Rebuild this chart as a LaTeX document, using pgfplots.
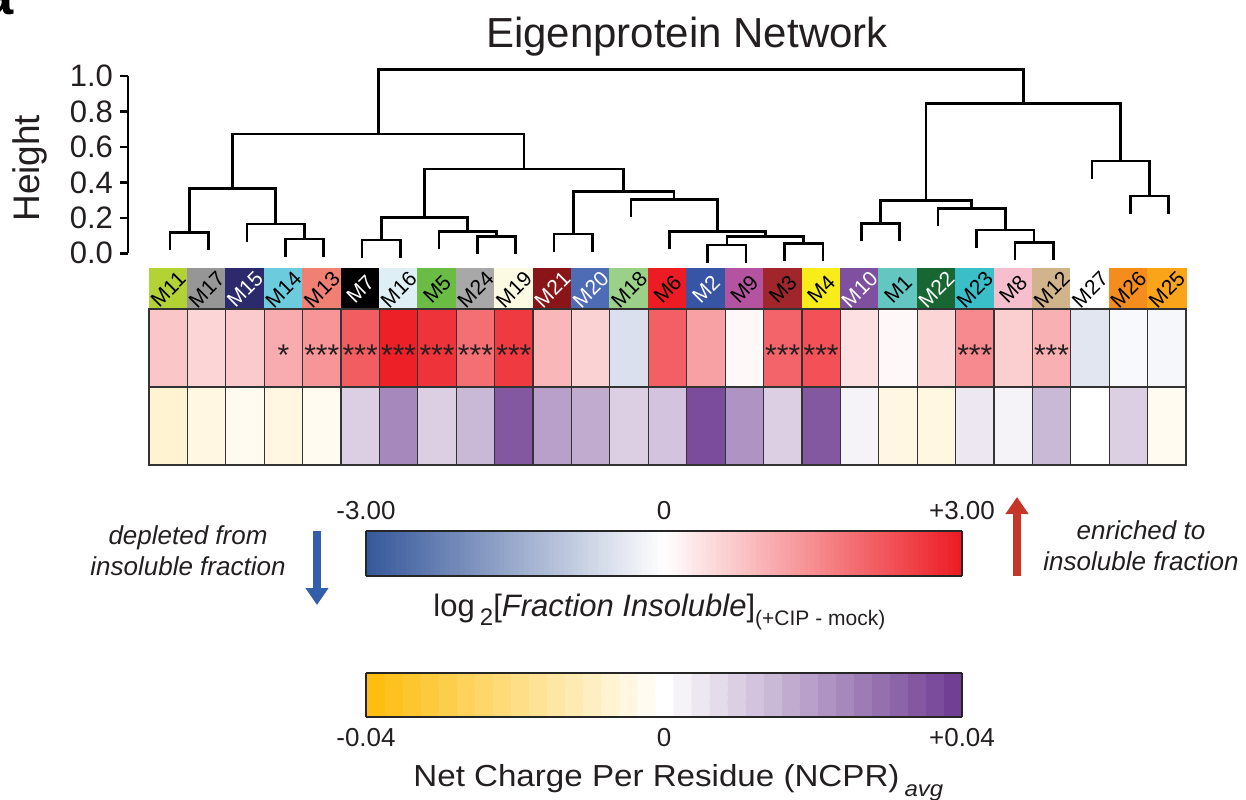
\documentclass[border=0pt]{standalone}
\usepackage{pgfplots}
\pgfplotsset{compat=1.18}
\usepackage{pgfplotstable}
\usepackage{fontspec}
\setmainfont{Liberation Sans}
\newfontfamily\widefont[FakeStretch=1.09]{Liberation Sans}
\usetikzlibrary{arrows.meta}

\definecolor{cM11}{RGB}{178,210,53}
\definecolor{cM17}{RGB}{150,150,150}
\definecolor{cM15}{RGB}{43,42,108}
\definecolor{cM14}{RGB}{108,203,221}
\definecolor{cM13}{RGB}{240,128,116}
\definecolor{cM7}{RGB}{0,0,0}
\definecolor{cM16}{RGB}{222,240,246}
\definecolor{cM5}{RGB}{106,188,69}
\definecolor{cM24}{RGB}{168,168,168}
\definecolor{cM19}{RGB}{252,250,226}
\definecolor{cM21}{RGB}{138,21,24}
\definecolor{cM20}{RGB}{78,107,181}
\definecolor{cM18}{RGB}{155,208,137}
\definecolor{cM6}{RGB}{237,28,36}
\definecolor{cM2}{RGB}{56,84,164}
\definecolor{cM9}{RGB}{180,84,160}
\definecolor{cM3}{RGB}{160,38,43}
\definecolor{cM4}{RGB}{248,237,26}
\definecolor{cM10}{RGB}{128,80,160}
\definecolor{cM1}{RGB}{100,198,192}
\definecolor{cM22}{RGB}{24,103,51}
\definecolor{cM23}{RGB}{58,190,200}
\definecolor{cM8}{RGB}{247,190,205}
\definecolor{cM12}{RGB}{210,180,140}
\definecolor{cM27}{RGB}{255,255,255}
\definecolor{cM26}{RGB}{245,140,30}
\definecolor{cM25}{RGB}{250,165,25}
\definecolor{arrblue}{RGB}{50,94,172}
\definecolor{arrred}{RGB}{198,54,40}
\definecolor{txt}{RGB}{35,31,32}

\pgfplotsset{
  colormap={frac0}{rgb255=(55,88,155) rgb255=(255,255,255) rgb255=(237,28,36)},
  colormap={fracmap}{samples of colormap=(121 of frac0)},
  colormap={ncpr0}{rgb255=(253,190,16) rgb255=(255,255,255) rgb255=(113,64,148)},
  colormap={ncprmap}{samples of colormap=(33 of ncpr0)},
  dend/.style={black, line width=1.3pt, mark=none, line join=miter},
  hm/.style={at={(74.5pt,167pt)}, anchor=south west, scale only axis,
    width=518.5pt, height=98.5pt, xmin=-0.5, xmax=26.5, ymin=0, ymax=197,
    hide axis, clip=false},
  cellplot/.style={scatter, only marks, mark=*, mark size=0.01pt,
    point meta=explicit,
    scatter/use mapped color={draw=mapped color, fill=mapped color}},
}

\pgfplotstableread{
x lab c frac ncpr
0 M11 cM11 0.73 -0.0068
1 M17 cM17 0.54 -0.0050
2 M15 cM15 0.67 -0.0030
3 M14 cM14 1.10 -0.0050
4 M13 cM13 1.40 -0.0030
5 M7 cM7 2.15 0.0105
6 M16 cM16 2.95 0.0240
7 M5 cM5 2.70 0.0098
8 M24 cM24 1.90 0.0157
9 M19 cM19 2.60 0.0350
10 M21 cM21 0.93 0.0200
11 M20 cM20 0.60 0.0164
12 M18 cM18 -0.56 0.0094
13 M6 cM6 2.10 0.0115
14 M2 cM2 1.25 0.0360
15 M9 cM9 0.10 0.0220
16 M3 cM3 2.05 0.0090
17 M4 cM4 2.30 0.0340
18 M10 cM10 0.41 0.0020
19 M1 cM1 0.10 -0.0060
20 M22 cM22 0.57 -0.0045
21 M23 cM23 1.55 0.0057
22 M8 cM8 0.66 0.0020
23 M12 cM12 1.06 0.0140
24 M27 cM27 -0.45 0.0000
25 M26 cM26 -0.10 0.0094
26 M25 cM25 -0.15 -0.0030
}\modtable

\newcommand{\ml}[3]{\node[rotate=45, inner sep=0pt, font=\fontsize{10.5}{11}\selectfont, text=#3] at (axis cs:#1,175.5) {#2};}
\newcommand{\st}[2]{\node[inner sep=0pt, font=\fontsize{15}{15}\selectfont, text=txt, yshift=-3.6pt] at (axis cs:#1,117) {#2};}

\begin{document}
\begin{tikzpicture}[x=1pt,y=1pt]
\useasboundingbox (0,0) rectangle (623,399.5);

\node[anchor=base west, inner sep=0pt, font=\bfseries\fontsize{28}{28}\selectfont] at (-9,392) {a};
\node[anchor=base, inner sep=0pt, font=\fontsize{21}{24}\selectfont, text=txt] at (343.5,375.5) {Eigenprotein Network};

% ---------------- dendrogram ----------------
\begin{axis}[
  at={(64pt,272.85pt)}, anchor=south west,
  scale only axis, width=529pt, height=88.65pt,
  xmin=-1.047, xmax=26.5, ymin=0, ymax=1, clip=false,
  axis x line=none, axis y line*=left,
  axis line style={line width=1.3pt, black},
  ytick={0,0.2,0.4,0.6,0.8,1}, yticklabels={0.0,0.2,0.4,0.6,0.8,1.0},
  tick align=outside, major tick length=4pt,
  tick style={line width=1.3pt, black},
  yticklabel style={font=\fontsize{15.5}{16}\selectfont, text=txt},
  ylabel={Height},
  ylabel style={font=\fontsize{18.5}{20}\selectfont, text=txt, at={(axis description cs:-0.0926,0.48)}, anchor=center},
  x filter/.expression={x+0.047},
]
\addplot[dend] coordinates {(0,0.016)(0,0.116)(1,0.116)(1,0.016)};
\addplot[dend] coordinates {(3,-0.019)(3,0.081)(4,0.081)(4,-0.019)};
\addplot[dend] coordinates {(2,0.065)(2,0.165)(3.5,0.165)(3.5,0.081)};
\addplot[dend] coordinates {(0.5,0.116)(0.5,0.367)(2.75,0.367)(2.75,0.165)};
\addplot[dend] coordinates {(5,-0.025)(5,0.075)(6,0.075)(6,-0.025)};
\addplot[dend] coordinates {(8,-0.006)(8,0.094)(9,0.094)(9,-0.006)};
\addplot[dend] coordinates {(7,0.022)(7,0.122)(8.5,0.122)(8.5,0.094)};
\addplot[dend] coordinates {(5.5,0.075)(5.5,0.203)(7.75,0.203)(7.75,0.122)};
\addplot[dend] coordinates {(10,0.009)(10,0.109)(11,0.109)(11,0.009)};
\addplot[dend] coordinates {(14,-0.053)(14,0.047)(15,0.047)(15,-0.053)};
\addplot[dend] coordinates {(16,-0.044)(16,0.056)(17,0.056)(17,-0.044)};
\addplot[dend] coordinates {(14.5,0.047)(14.5,0.094)(16.5,0.094)(16.5,0.056)};
\addplot[dend] coordinates {(13,0.022)(13,0.122)(15.5,0.122)(15.5,0.094)};
\addplot[dend] coordinates {(12,0.205)(12,0.305)(14.25,0.305)(14.25,0.122)};
\addplot[dend] coordinates {(10.5,0.109)(10.5,0.348)(13.125,0.348)(13.125,0.305)};
\addplot[dend] coordinates {(6.625,0.203)(6.625,0.475)(11.8125,0.475)(11.8125,0.348)};
\addplot[dend] coordinates {(1.625,0.367)(1.625,0.673)(9.21875,0.673)(9.21875,0.475)};
\addplot[dend] coordinates {(18,0.069)(18,0.169)(19,0.169)(19,0.069)};
\addplot[dend] coordinates {(22,-0.038)(22,0.062)(23,0.062)(23,-0.038)};
\addplot[dend] coordinates {(21,0.031)(21,0.131)(22.5,0.131)(22.5,0.062)};
\addplot[dend] coordinates {(20,0.154)(20,0.254)(21.75,0.254)(21.75,0.131)};
\addplot[dend] coordinates {(18.5,0.169)(18.5,0.297)(20.875,0.297)(20.875,0.254)};
\addplot[dend] coordinates {(25,0.223)(25,0.323)(26,0.323)(26,0.223)};
\addplot[dend] coordinates {(24,0.42)(24,0.52)(25.5,0.52)(25.5,0.323)};
\addplot[dend] coordinates {(19.6875,0.297)(19.6875,0.846)(24.75,0.846)(24.75,0.52)};
\addplot[dend] coordinates {(5.421875,0.673)(5.421875,1.038)(22.21875,1.038)(22.21875,0.846)};
\end{axis}

% ---------------- module colour row ----------------
\begin{axis}[hm]
\addplot[scatter, only marks, mark=*, mark size=0.01pt, point meta=explicit symbolic,
  scatter/@pre marker code/.code={%
    \pgfsetcolor{\pgfplotspointmeta}%
    \fill[fill=\pgfplotspointmeta] (axis direction cs:-0.5,-20.5) rectangle (axis direction cs:0.5,20.5);},
  scatter/@post marker code/.code={}]
  table[x=x, y expr=176.5, meta=c] \modtable;
\end{axis}

% ---------------- NCPR row ----------------
\begin{axis}[hm,
  colormap name=ncprmap, colormap access=piecewise constant,
  point meta min=-0.04, point meta max=0.04,
  colorbar horizontal,
  colorbar style={at={(parent axis.south west)}, anchor=north west,
    xshift=108.5pt, yshift=-95.5pt, scale only axis, width=298pt, height=22pt,
    hide axis=false,
    xtick={-0.04,0,0.04}, xticklabels={-0.04,0,+0.04}, ytick=\empty,
    scaled x ticks=false,
    major tick length=0pt, xticklabel pos=lower,
    xticklabel style={font=\fontsize{13}{13}\selectfont, text=txt, yshift=-2pt},
    axis line style={line width=0.6pt, draw=black!85}},
]
\addplot[cellplot,
  scatter/@pre marker code/.append code={%
    \filldraw[fill=mapped color, draw=black!80, line width=0.6pt] (axis direction cs:-0.5,-39) rectangle (axis direction cs:0.5,39);}]
  table[x=x, y expr=39, meta=ncpr] \modtable;
\end{axis}

% ---------------- Fraction row ----------------
\begin{axis}[hm,
  colormap name=fracmap, colormap access=piecewise constant,
  point meta min=-3, point meta max=3,
  colorbar horizontal,
  colorbar style={at={(parent axis.south west)}, anchor=north west,
    xshift=108.5pt, yshift=-24.5pt, scale only axis, width=298pt, height=22.5pt,
    hide axis=false,
    xtick={-3,0,3}, xticklabels={-3.00,0,+3.00}, ytick=\empty,
    scaled x ticks=false,
    major tick length=0pt, xticklabel pos=upper,
    xticklabel style={font=\fontsize{13}{13}\selectfont, text=txt, yshift=2pt},
    axis line style={line width=0.6pt, draw=black!85}},
]
\addplot[cellplot,
  scatter/@pre marker code/.append code={%
    \filldraw[fill=mapped color, draw=black!80, line width=0.6pt] (axis direction cs:-0.5,-39) rectangle (axis direction cs:0.5,39);}]
  table[x=x, y expr=117, meta=frac] \modtable;
\end{axis}

% ---------------- labels and significance stars on top ----------------
\begin{axis}[hm]
\ml{0}{M11}{black}
\ml{1}{M17}{black}
\ml{2}{M15}{white}
\ml{3}{M14}{black}
\ml{4}{M13}{black}
\ml{5}{M7}{white}
\ml{6}{M16}{black}
\ml{7}{M5}{black}
\ml{8}{M24}{black}
\ml{9}{M19}{black}
\ml{10}{M21}{white}
\ml{11}{M20}{white}
\ml{12}{M18}{black}
\ml{13}{M6}{black}
\ml{14}{M2}{white}
\ml{15}{M9}{black}
\ml{16}{M3}{black}
\ml{17}{M4}{black}
\ml{18}{M10}{white}
\ml{19}{M1}{black}
\ml{20}{M22}{white}
\ml{21}{M23}{black}
\ml{22}{M8}{black}
\ml{23}{M12}{black}
\ml{24}{M27}{black}
\ml{25}{M26}{black}
\ml{26}{M25}{black}
\st{3}{*}
\st{4}{***}
\st{5}{***}
\st{6}{***}
\st{7}{***}
\st{8}{***}
\st{9}{***}
\st{16}{***}
\st{17}{***}
\st{21}{***}
\st{23}{***}
\end{axis}

% ---------------- annotations ----------------
\draw[arrblue, line width=4pt, -{Triangle[width=11pt,length=8.5pt]}] (158.5,134) -- (158.5,97);
\draw[arrred, line width=4pt, -{Triangle[width=11pt,length=8.5pt]}] (508.5,111.5) -- (508.5,151);

\node[align=center, text=txt, font=\itshape\fontsize{13}{15.5}\selectfont] at (94,124) {depleted from\\insoluble fraction};
\node[align=center, text=txt, font=\itshape\fontsize{13}{15.5}\selectfont] at (570.5,126.5) {enriched to\\insoluble fraction};

\node[anchor=base west, inner sep=0pt, text=txt, font=\fontsize{15.5}{16}\selectfont] at (216.5,91.5)
  {log\,\raisebox{-0.55ex}{\fontsize{12}{12}\selectfont 2}[\textit{Fraction Insoluble}]\raisebox{-0.55ex}{\fontsize{10.5}{11}\selectfont (+CIP - mock)}};

\node[anchor=base west, inner sep=0pt, text=txt, font=\widefont\fontsize{15.2}{16}\selectfont] at (206.5,6.2)
  {Net Charge Per Residue (NCPR)\,\raisebox{-0.6ex}{\fontsize{11}{11}\selectfont\itshape avg}};
\end{tikzpicture}
\end{document}
